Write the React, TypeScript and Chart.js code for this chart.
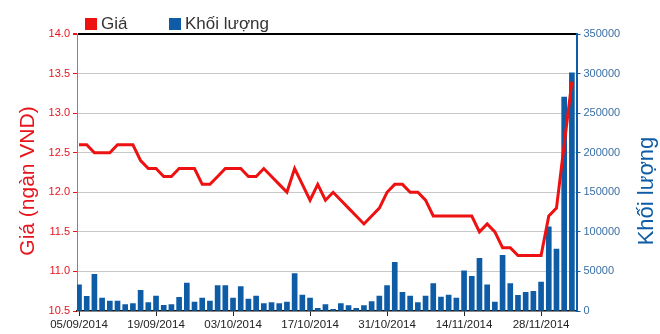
import React, { useEffect, useRef } from 'react';
import { Chart, registerables } from 'chart.js';

Chart.register(...registerables);

const dates = [
  '05/09/2014',
  '08/09/2014', '09/09/2014', '10/09/2014', '11/09/2014', '12/09/2014',
  '15/09/2014', '16/09/2014', '17/09/2014', '18/09/2014', '19/09/2014',
  '22/09/2014', '23/09/2014', '24/09/2014', '25/09/2014', '26/09/2014',
  '29/09/2014', '30/09/2014', '01/10/2014', '02/10/2014', '03/10/2014',
  '06/10/2014', '07/10/2014', '08/10/2014', '09/10/2014', '10/10/2014',
  '13/10/2014', '14/10/2014', '15/10/2014', '16/10/2014', '17/10/2014',
  '20/10/2014', '21/10/2014', '22/10/2014', '23/10/2014', '24/10/2014',
  '27/10/2014', '28/10/2014', '29/10/2014', '30/10/2014', '31/10/2014',
  '03/11/2014', '04/11/2014', '05/11/2014', '06/11/2014', '07/11/2014',
  '10/11/2014', '11/11/2014', '12/11/2014', '13/11/2014', '14/11/2014',
  '17/11/2014', '18/11/2014', '19/11/2014', '20/11/2014', '21/11/2014',
  '24/11/2014', '25/11/2014', '26/11/2014', '27/11/2014', '28/11/2014',
  '01/12/2014', '02/12/2014', '03/12/2014', '04/12/2014',
];

const prices = [
  12.6,
  12.6, 12.5, 12.5, 12.5, 12.6,
  12.6, 12.6, 12.4, 12.3, 12.3,
  12.2, 12.2, 12.3, 12.3, 12.3,
  12.1, 12.1, 12.2, 12.3, 12.3,
  12.3, 12.2, 12.2, 12.3, 12.2,
  12.1, 12.0, 12.3, 12.1, 11.9,
  12.1, 11.9, 12.0, 11.9, 11.8,
  11.7, 11.6, 11.7, 11.8, 12.0,
  12.1, 12.1, 12.0, 12.0, 11.9,
  11.7, 11.7, 11.7, 11.7, 11.7,
  11.7, 11.5, 11.6, 11.5, 11.3,
  11.3, 11.2, 11.2, 11.2, 11.2,
  11.7, 11.8, 12.6, 13.4,
];

const volumes = [
  33200,
  18500, 46300, 16400, 12600, 12600,
  8000, 9300, 26100, 10500, 19000,
  7200, 8000, 17300, 35400, 11400,
  16400, 12600, 32000, 32000, 16400,
  30700, 15200, 19000, 9300, 10500,
  9300, 11400, 47200, 20200, 16400,
  3400, 8000, 2100, 9300, 6700,
  3400, 6700, 11800, 19000, 32000,
  61500, 23600, 19000, 10500, 19000,
  34500, 17700, 20200, 16400, 50900,
  43800, 66500, 33200, 11400, 70300,
  34500, 19800, 23600, 24800, 36600,
  106500, 78300, 270300, 301000,
];

const labelIndexes = [0, 10, 20, 30, 40, 50, 60];

const PRICE_LABEL = 'Giá';
const VOLUME_LABEL = 'Khối lượng';
const PRICE_TITLE = 'Giá (ngàn VND)';
const VOLUME_TITLE = 'Khối lượng';

const FONT = 'Liberation Sans, Arial, sans-serif';
const RED = '#ee1111';
const BLUE = '#0e5ca6';
const RED_TEXT = '#e8141c';
const BLUE_TEXT = '#3a6fa3';

const legendPlugin = {
  id: 'customLegend',
  afterDraw(chart: any) {
    const ctx = chart.ctx;
    const positions = [85, 169];
    ctx.save();
    ctx.font = `17px ${FONT}`;
    ctx.textBaseline = 'middle';
    ctx.textAlign = 'left';
    chart.data.datasets.forEach((ds: any, i: number) => {
      const x = positions[i];
      ctx.fillStyle = i === 0 ? ds.borderColor : ds.backgroundColor;
      ctx.fillRect(x, 18, 12, 12);
      ctx.fillStyle = '#333';
      ctx.fillText(ds.label, x + 16, 24);
    });
    ctx.restore();
  },
};

const titlesPlugin = {
  id: 'axisTitles',
  afterDraw(chart: any) {
    const ctx = chart.ctx;
    ctx.save();
    ctx.textAlign = 'center';
    ctx.textBaseline = 'middle';
    ctx.font = `21px ${FONT}`;
    ctx.translate(28, 181);
    ctx.rotate(-Math.PI / 2);
    ctx.fillStyle = RED_TEXT;
    ctx.fillText(PRICE_TITLE, 0, 0);
    ctx.restore();
    ctx.save();
    ctx.textAlign = 'center';
    ctx.textBaseline = 'middle';
    ctx.font = `22px ${FONT}`;
    ctx.translate(647, 191);
    ctx.rotate(-Math.PI / 2);
    ctx.fillStyle = BLUE;
    ctx.fillText(VOLUME_TITLE, 0, 0);
    ctx.restore();
  },
};

export default function App() {
  const ref = useRef<HTMLCanvasElement | null>(null);

  useEffect(() => {
    if (!ref.current) return;
    const chart = new Chart(ref.current, {
      type: 'bar',
      data: {
        datasets: [
          {
            type: 'line',
            label: PRICE_LABEL,
            data: prices.map((p, i) => ({ x: i, y: p })),
            yAxisID: 'y',
            borderColor: RED,
            backgroundColor: RED,
            borderWidth: 3,
            pointRadius: 0,
            tension: 0,
            order: 0,
          } as any,
          {
            type: 'bar',
            label: VOLUME_LABEL,
            data: volumes.map((v, i) => ({ x: i, y: v })),
            yAxisID: 'y1',
            backgroundColor: BLUE,
            borderWidth: 0,
            barThickness: 5,
            order: 1,
          } as any,
        ],
      },
      options: {
        animation: false,
        responsive: true,
        maintainAspectRatio: false,
        devicePixelRatio: 1,
        layout: { padding: { top: 34, left: 0, right: 0, bottom: 0 } },
        plugins: {
          legend: { display: false },
          tooltip: { enabled: false },
        },
        scales: {
          x: {
            type: 'linear',
            offset: false,
            min: -0.26,
            max: 64.6,
            afterFit: (s: any) => { s.height = 23; },
            afterBuildTicks: (s: any) => { s.ticks = labelIndexes.map((v) => ({ value: v })); },
            ticks: {
              callback: (v: any) => dates[v] ?? '',
              font: { family: FONT, size: 11.5 },
              color: '#222',
              padding: 2,
              maxRotation: 0,
              autoSkip: false,
            },
            grid: { offset: false, drawOnChartArea: false, drawTicks: true, tickLength: 5, color: '#222' },
            border: { color: '#111', width: 1.5 },
          },
          y: {
            position: 'left',
            min: 10.5,
            max: 14,
            afterFit: (s: any) => { s.width = 77; },
            ticks: {
              stepSize: 0.5,
              color: RED_TEXT,
              font: { family: FONT, size: 11 },
              padding: 3,
            },
            grid: {
              color: (c: any) => (c.tick && c.tick.value === 14 ? '#000' : c.tick && c.tick.value === 10.5 ? 'rgba(0,0,0,0)' : '#c8c8c8'),
              lineWidth: (c: any) => (c.tick && c.tick.value === 14 ? 2 : 1),
              tickColor: RED_TEXT,
              tickLength: 4,
            },
            border: { color: '#e85a5a', width: 1 },
          },
          y1: {
            position: 'right',
            min: 0,
            max: 350000,
            afterFit: (s: any) => { s.width = 83.5; },
            ticks: {
              stepSize: 50000,
              color: BLUE_TEXT,
              font: { family: FONT, size: 11 },
              padding: 3,
              callback: (v: any) => String(v),
            },
            grid: { drawOnChartArea: false, tickColor: BLUE, tickLength: 4 },
            border: { color: BLUE, width: 2 },
          },
        },
      } as any,
      plugins: [legendPlugin, titlesPlugin],
    });
    return () => chart.destroy();
  }, []);

  return (
    <div style={{ position: 'absolute', left: 0, top: 0, width: 660, height: 334 }}>
      <canvas ref={ref} />
    </div>
  );
}
